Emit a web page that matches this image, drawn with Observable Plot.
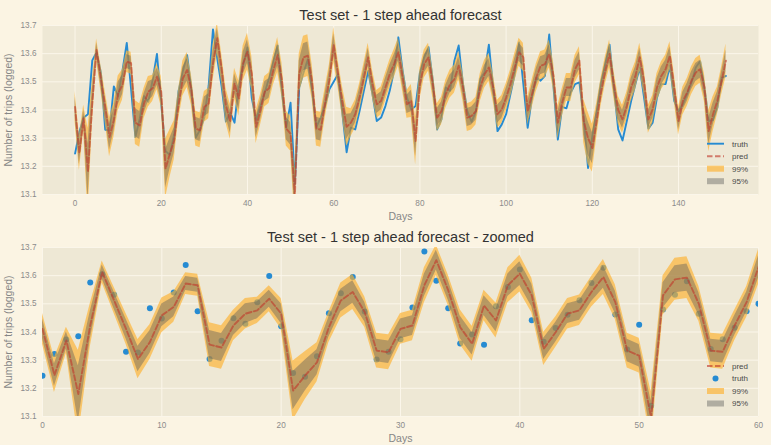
<!DOCTYPE html>
<html><head><meta charset="utf-8">
<script src="https://cdn.jsdelivr.net/npm/d3@7"></script>
<script src="https://cdn.jsdelivr.net/npm/@observablehq/plot@0.6"></script>
<style>
html,body{margin:0;padding:0;background:#FBF4E3;}
#wrap{position:relative;width:771px;height:445px;overflow:hidden;font-family:"Liberation Sans",Arial,sans-serif;}
#wrap > svg{display:block}
#legend{position:absolute;left:0;top:0;pointer-events:none}
</style></head><body><div id="wrap"></div>
<script>
// ---- data ----
const truth = [13.245,13.322,13.373,13.385,13.576,13.605,13.532,13.330,13.327,13.484,
13.448,13.540,13.638,13.474,13.304,13.369,13.449,13.429,13.506,13.599,
13.420,13.254,13.241,13.314,13.467,13.538,13.595,13.473,13.302,13.330,
13.374,13.487,13.686,13.582,13.484,13.359,13.391,13.355,13.491,13.560,
13.622,13.442,13.365,13.414,13.461,13.513,13.574,13.628,13.462,13.338,
13.426,13.138,13.480,13.532,13.580,13.465,13.340,13.374,13.415,13.474,
13.500,13.527,13.390,13.250,13.337,13.331,13.396,13.468,13.539,13.456,
13.361,13.373,13.414,13.468,13.539,13.658,13.539,13.444,13.402,13.414,
13.533,13.587,13.623,13.504,13.331,13.367,13.480,13.468,13.575,13.629,
13.492,13.396,13.358,13.396,13.510,13.533,13.632,13.480,13.325,13.349,
13.385,13.456,13.527,13.640,13.492,13.337,13.444,13.515,13.504,13.521,
13.668,13.480,13.295,13.411,13.406,13.462,13.492,13.498,13.373,13.194,
13.307,13.396,13.498,13.563,13.632,13.480,13.331,13.292,13.361,13.432,
13.492,13.551,13.444,13.334,13.355,13.444,13.492,13.492,13.557,13.432,
13.396,13.420,13.456,13.498,13.551,13.573,13.480,13.361,13.364,13.408,
13.513,13.521];

const pred = [13.411,13.247,13.370,13.180,13.423,13.613,13.512,13.411,13.304,13.364,
13.459,13.489,13.572,13.566,13.355,13.345,13.423,13.465,13.477,13.518,
13.465,13.192,13.245,13.292,13.417,13.512,13.542,13.471,13.334,13.328,
13.411,13.423,13.566,13.655,13.548,13.417,13.358,13.494,13.441,13.566,
13.607,13.530,13.340,13.399,13.465,13.477,13.542,13.595,13.506,13.334,
13.316,13.095,13.530,13.587,13.593,13.500,13.334,13.330,13.423,13.506,
13.631,13.530,13.430,13.340,13.355,13.385,13.444,13.515,13.587,13.492,
13.420,13.432,13.480,13.527,13.563,13.605,13.515,13.420,13.432,13.290,
13.492,13.563,13.587,13.492,13.373,13.396,13.456,13.492,13.509,13.557,
13.480,13.373,13.379,13.396,13.480,13.527,13.551,13.480,13.385,13.402,
13.444,13.492,13.551,13.605,13.587,13.396,13.456,13.515,13.557,13.563,
13.599,13.521,13.355,13.426,13.480,13.480,13.545,13.575,13.361,13.300,
13.265,13.361,13.462,13.539,13.599,13.492,13.400,13.367,13.414,13.480,
13.521,13.587,13.504,13.367,13.402,13.480,13.521,13.545,13.593,13.480,
13.361,13.432,13.462,13.504,13.533,13.545,13.480,13.325,13.385,13.432,
13.504,13.575];

// half-width of the 95% band; 99% band is wider by ratio99
const band95 = [0.035,0.040,0.030,0.100,0.050,0.025,0.030,0.035,0.045,0.040,
0.040,0.035,0.025,0.025,0.050,0.050,0.035,0.035,0.030,0.030,
0.035,0.068,0.055,0.045,0.035,0.040,0.040,0.035,0.040,0.040,
0.035,0.035,0.040,0.035,0.035,0.040,0.040,0.035,0.040,0.040,
0.042,0.040,0.038,0.035,0.035,0.035,0.035,0.040,0.040,0.040,
0.040,0.060,0.045,0.048,0.048,0.040,0.040,0.040,0.035,0.035,
0.040,0.032,0.036,0.045,0.032,0.032,0.032,0.032,0.032,0.032,
0.032,0.032,0.032,0.032,0.032,0.032,0.032,0.032,0.038,0.055,
0.036,0.032,0.032,0.032,0.032,0.032,0.032,0.032,0.032,0.032,
0.032,0.032,0.032,0.032,0.032,0.032,0.032,0.032,0.032,0.032,
0.032,0.032,0.032,0.032,0.032,0.032,0.032,0.032,0.032,0.032,
0.032,0.032,0.038,0.032,0.032,0.032,0.032,0.032,0.050,0.060,
0.055,0.040,0.032,0.032,0.032,0.032,0.032,0.032,0.032,0.032,
0.032,0.032,0.032,0.032,0.032,0.032,0.032,0.032,0.032,0.032,
0.032,0.032,0.032,0.032,0.032,0.032,0.032,0.047,0.040,0.032,
0.032,0.038];
const ratio99 = 1.55;

const zoomLastDay = 60;
const yTicks = [13.1,13.2,13.3,13.4,13.5,13.6,13.7];
const xTicksFull = [0,20,40,60,80,100,120,140];
const xTicksZoom = [0,10,20,30,40,50,60];
const titleFull = "Test set - 1 step ahead forecast";
const titleZoom = "Test set - 1 step ahead forecast - zoomed";
const xLabel = "Days";
const yLabel = "Number of trips (logged)";
const legendFull = ["truth","pred","99%","95%"];
const legendZoom = ["pred","truth","99%","95%"];

// ---- styles ----
const C = {
  truth:"#268BD2", pred:"#c0392b", band99:"#fdb12e", band95:"#5a5a5a",
  panel:"#EEE8D5", grid:"#FBF6EA", tick:"#8b8b8b", label:"#868686", title:"#333333", legend:"#4a4a4a"
};
const OP99 = 0.65, OP95 = 0.42, OPPRED = 0.62;
const FONT = '"Liberation Sans", Arial, sans-serif';

const rows = truth.map((t,i)=>({
  day:i, truth:t, pred:pred[i],
  lo95:pred[i]-band95[i], hi95:pred[i]+band95[i],
  lo99:pred[i]-band95[i]*ratio99, hi99:pred[i]+band95[i]*ratio99
}));
const rowsZoom = rows.filter(d=>d.day<=zoomLastDay);

function panel({data, xDomain, xTicks, title, dots, height, marginBottom}) {
  const truthMark = dots
    ? Plot.dot(data,{x:"day",y:"truth",r:3,fill:C.truth,stroke:null,clip:true})
    : Plot.line(data,{x:"day",y:"truth",stroke:C.truth,strokeWidth:1.9,clip:true});
  const predMark = Plot.line(data,{x:"day",y:"pred",stroke:C.pred,strokeOpacity:OPPRED,strokeWidth:1.9,strokeDasharray:"5.5,2.5",clip:true});
  const first = dots ? [truthMark] : [truthMark];
  return Plot.plot({
    width:771, height, marginLeft:42, marginRight:13, marginTop:25, marginBottom,
    style:{background:"transparent", fontFamily:FONT, fontSize:"8.2px", overflow:"visible"},
    x:{domain:xDomain, label:null},
    y:{domain:[13.1,13.7], label:null},
    marks:[
      Plot.frame({fill:C.panel, stroke:null}),
      Plot.gridY(yTicks,{stroke:C.grid, strokeOpacity:1, strokeWidth:1}),
      Plot.gridX(xTicks,{stroke:C.grid, strokeOpacity:1, strokeWidth:1}),
      ...first,
      Plot.areaY(data,{x:"day",y1:"lo99",y2:"hi99",fill:C.band99,fillOpacity:OP99,clip:true}),
      Plot.areaY(data,{x:"day",y1:"lo95",y2:"hi95",fill:C.band95,fillOpacity:OP95,clip:true}),
      predMark,
      Plot.axisY(yTicks,{tickSize:0,tickPadding:6,tickFormat:d3.format(".1f"),fill:C.tick,label:null}),
      Plot.axisX(xTicks,{tickSize:0,tickPadding:6,fill:C.tick,label:null}),
      Plot.text([title],{text:d=>d,frameAnchor:"top",dy:-10,lineAnchor:"middle",textAnchor:"middle",fontSize:14.5,fill:C.title}),
      Plot.text([xLabel],{text:d=>d,frameAnchor:"bottom",dy:22,lineAnchor:"middle",textAnchor:"middle",fontSize:10.5,fill:C.label}),
      Plot.text([yLabel],{text:d=>d,frameAnchor:"left",dx:-34,rotate:-90,lineAnchor:"middle",textAnchor:"middle",fontSize:10.5,fill:C.label})
    ]
  });
}

const wrap = document.getElementById("wrap");
wrap.appendChild(panel({data:rows, xDomain:[-7.55,158.55], xTicks:xTicksFull, title:titleFull, dots:false, height:222, marginBottom:28}));
wrap.appendChild(panel({data:rowsZoom, xDomain:[0,zoomLastDay], xTicks:xTicksZoom, title:titleZoom, dots:true, height:223, marginBottom:29}));

// ---- legends ----
const leg = d3.select(wrap).append("svg").attr("id","legend").attr("width",771).attr("height",445)
  .style("font-family",FONT);
function legend(items, y0, dotTruth) {
  const x0 = 707, x1 = 724, tx = 732, step = 12.5;
  items.forEach((name,i)=>{
    const y = y0 + i*step;
    if (name==="truth" && dotTruth) {
      leg.append("circle").attr("cx",(x0+x1)/2).attr("cy",y).attr("r",3).attr("fill",C.truth);
    } else if (name==="truth") {
      leg.append("line").attr("x1",x0).attr("x2",x1).attr("y1",y).attr("y2",y).attr("stroke",C.truth).attr("stroke-width",1.9);
    } else if (name==="pred") {
      leg.append("line").attr("x1",x0).attr("x2",x1).attr("y1",y).attr("y2",y).attr("stroke",C.pred)
        .attr("stroke-opacity",OPPRED).attr("stroke-width",1.9).attr("stroke-dasharray","5.5,2.5");
    } else {
      const col = name==="99%" ? C.band99 : C.band95;
      const op = name==="99%" ? OP99 : OP95;
      leg.append("rect").attr("x",x0).attr("y",y-3).attr("width",x1-x0).attr("height",6).attr("fill",col).attr("fill-opacity",op);
    }
    leg.append("text").attr("x",tx).attr("y",y).attr("dy","0.35em").attr("font-size","8px").attr("fill",C.legend).text(name);
  });
}
legend(legendFull, 143.7, false);
legend(legendZoom, 366, true);
</script></body></html>
